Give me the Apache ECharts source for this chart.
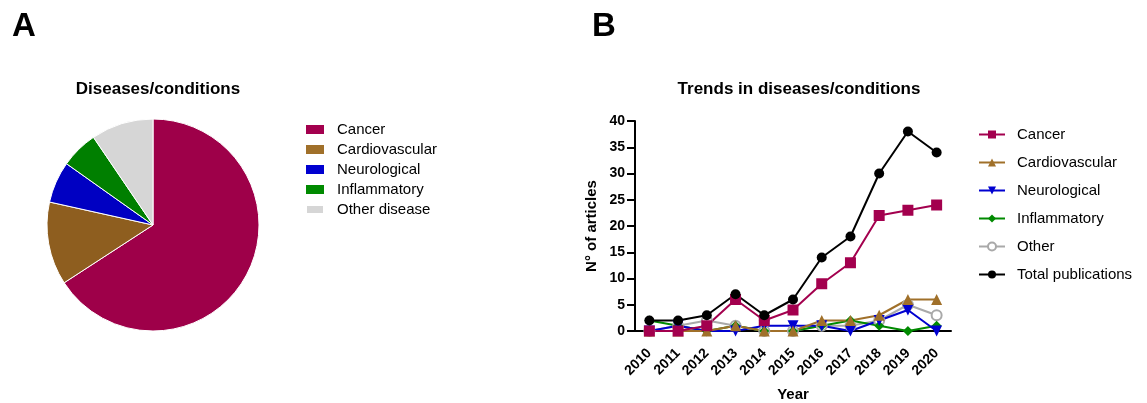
<!DOCTYPE html>
<html><head><meta charset="utf-8">
<script src="https://cdn.jsdelivr.net/npm/echarts@6/dist/echarts.min.js"></script>
<style>html,body{margin:0;padding:0;background:#fff}#c{width:1147px;height:403px}</style>
</head><body><div id="c"></div>
<script>
const pieCategories = ['Cancer','Cardiovascular','Neurological','Inflammatory','Other disease'];
const pieValues = [104, 20, 10, 9, 15];
const years = ['2010','2011','2012','2013','2014','2015','2016','2017','2018','2019','2020'];
const cancer =        [0,0,1,6,2,4,9,13,22,23,24];
const cardiovascular =[0,0,0,1,0,0,2,2,3,6,6];
const neurological =  [0,1,0,0,1,1,1,0,2,4,0];
const inflammatory =  [2,1,0,1,0,0,1,2,1,0,1];
const other =         [0,1,2,1,0,0,1,1,2,5,3];
const total =         [2,2,3,7,3,6,14,18,30,38,34];
const yTicks = [0,5,10,15,20,25,30,35,40];

const F = 'Liberation Sans, Arial, sans-serif';
const pieColors = ['#9E0049','#8E5E1F','#0000C2','#007F00','#D6D6D6'];
const chart = echarts.init(document.getElementById('c'));
function line(name, data, color, symbol, size, extra) {
  return Object.assign({
    name, type: 'line', data, xAxisIndex: 0, yAxisIndex: 0,
    symbol, symbolSize: size, color,
    lineStyle: { color, width: 2 },
    itemStyle: { color }
  }, extra || {});
}
chart.setOption({
  animation: false,
  textStyle: { fontFamily: F },
  title: [
    { text: 'A', left: 7, top: 5, textStyle: { fontSize: 33, fontWeight: 'bold', color: '#000', fontFamily: F } },
    { text: 'B', left: 587, top: 5, textStyle: { fontSize: 33, fontWeight: 'bold', color: '#000', fontFamily: F } },
    { text: 'Diseases/conditions', left: 153, textAlign: 'center', top: 76, textStyle: { fontSize: 17, fontWeight: 'bold', color: '#000', fontFamily: F } },
    { text: 'Trends in diseases/conditions', left: 794, textAlign: 'center', top: 76, textStyle: { fontSize: 17, fontWeight: 'bold', color: '#000', fontFamily: F } }
  ],
  legend: [
    { data: pieCategories, orient: 'vertical', left: 305, top: 122, padding: 0, icon: 'rect', itemWidth: 18, itemHeight: 9, itemGap: 5,
      textStyle: { fontSize: 15, color: '#000', fontFamily: F, lineHeight: 15, padding: [0,0,0,8] } },
    { data: ['Cancer','Cardiovascular','Neurological','Inflammatory','Other','Total publications'], orient: 'vertical', left: 978, top: 127, padding: 0,
      itemWidth: 26, itemHeight: 10, itemGap: 13,
      textStyle: { fontSize: 15, color: '#000', fontFamily: F, lineHeight: 15, padding: [0,0,0,7] } }
  ],
  grid: { left: 635, right: 196, top: 121, bottom: 72, containLabel: false, outerBoundsMode: 'none' },
  xAxis: {
    type: 'category', data: years, boundaryGap: true,
    name: 'Year', nameLocation: 'middle', nameGap: 56,
    nameTextStyle: { fontSize: 15, fontWeight: 'bold', color: '#000' },
    axisLine: { lineStyle: { color: '#000', width: 2 } },
    axisTick: { alignWithLabel: true, length: 8, lineStyle: { color: '#000', width: 2 } },
    axisLabel: { rotate: 45, fontSize: 14, fontWeight: 'bold', color: '#000', margin: 20 },
    splitLine: { show: false }
  },
  yAxis: {
    type: 'value', min: 0, max: 40, interval: 5,
    name: 'N° of articles', nameLocation: 'middle', nameGap: 36, nameRotate: 90,
    nameTextStyle: { fontSize: 15, fontWeight: 'bold', color: '#000' },
    axisLine: { show: true, lineStyle: { color: '#000', width: 2 } },
    axisTick: { show: true, length: 8, lineStyle: { color: '#000', width: 2 } },
    axisLabel: { fontSize: 14, fontWeight: 'bold', color: '#000', margin: 10,
      formatter: v => yTicks.includes(v) ? String(v) : '' },
    splitLine: { show: false }
  },
  series: [
    { type: 'pie', center: [153, 225], radius: 106, startAngle: 90, clockwise: true,
      label: { show: false }, labelLine: { show: false },
      itemStyle: { borderColor: '#fff', borderWidth: 1 },
      data: pieCategories.map((n, i) => ({ name: n, value: pieValues[i], itemStyle: { color: pieColors[i] } })) },
    line('Other', other, '#A9A9A9', 'emptyCircle', 10, { itemStyle: { color: '#A9A9A9', borderWidth: 2 } }),
    line('Inflammatory', inflammatory, '#008A00', 'diamond', 10),
    line('Neurological', neurological, '#0000D0', 'triangle', 11, { symbolRotate: 180 }),
    line('Cardiovascular', cardiovascular, '#A0702A', 'triangle', 11),
    line('Cancer', cancer, '#A3004E', 'rect', 11),
    line('Total publications', total, '#000000', 'circle', 10)
  ]
});
</script></body></html>
